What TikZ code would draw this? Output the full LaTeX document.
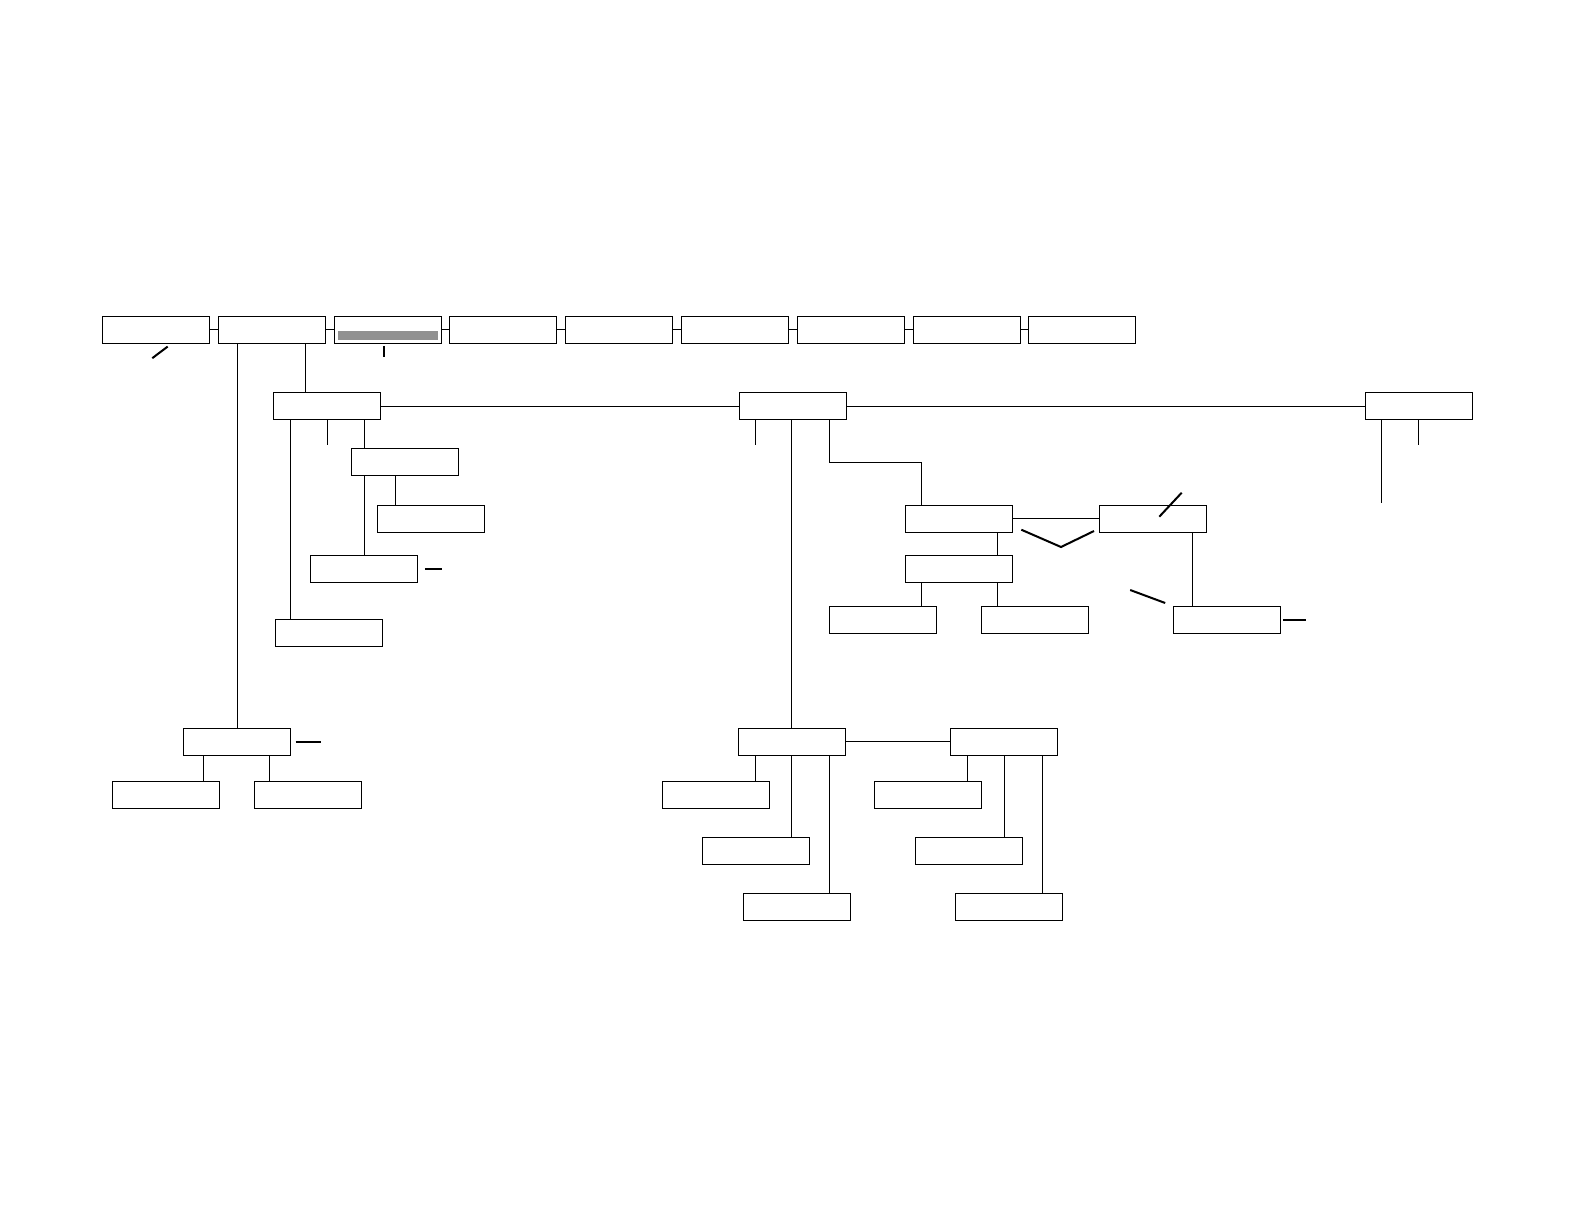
\documentclass[tikz,border=0pt]{standalone}
\usepackage{xcolor}
\usepackage{tikz}
\usetikzlibrary{positioning}
\definecolor{barfill}{gray}{0.57}

\begin{document}
\begin{tikzpicture}[x=1pt, y=-1pt, line width=1pt, node distance=8.8pt,
    box/.style={draw, rectangle, minimum width=107pt, minimum height=26.7pt, inner sep=0pt, outer sep=0pt},
    stub/.style={line width=2pt}]
    \useasboundingbox (0,0) rectangle (1584,1224);

    % top row
    \node[box] (t1) at (156,329.8) {};
    \foreach \i [count=\j from 2] in {1,...,8}
      \node[box, right=of t\i] (t\j) {};
    \foreach \i [count=\j from 2] in {1,...,8}
      \draw (t\i.east) -- (t\j.west);
    \fill[barfill] ([shift={(-49.8,1.2)}]t3.center) rectangle ([shift={(50.2,9.9)}]t3.center);
    \draw[stub] ([shift={(-3.7,15)}]t1.south) -- ([shift={(11.7,3.4)}]t1.south);
    \draw[stub] ([shift={(-4.1,2.7)}]t3.south) -- ++(0,10.7);

    % second level
    \node[box] (left) at (327.3,406.3) {};
    \node[box] (mid) at (792.5,406.3) {};
    \node[box] (right) at (1418.8,406.3) {};
    \draw ([xshift=33.5pt]t2.south) -- ([xshift=33.5pt]t2.south |- left.north);
    \draw (left.east) -- (mid.west);
    \draw (mid.east) -- (right.west);

    % left branch
    \node[box] (left1) at (405,462) {};
    \node[box] (left1a) at (431,518.8) {};
    \node[box] (left2) at (364,569.3) {};
    \node[box] (left3) at (329,632.7) {};
    \draw (left.south) -- ++(0,25) coordinate (lefttick);
    \draw ([xshift=-37pt]left.south) -- ([xshift=-37pt]left.south |- left3.north);
    \draw (left2.north |- left.south) -- (left2.north |- left1.north);
    \draw (left2.north |- left1.south) -- (left2.north);
    \draw ([xshift=-9.7pt]left1.south) -- ([xshift=-9.7pt]left1.south |- left1a.north);
    \draw[stub] ([xshift=7.3pt]left2.east) -- ++(17,0) coordinate (leftdash);

    % lower left
    \node[box] (low) at (237,741.8) {};
    \node[box] (low1) at (166,795.3) {};
    \node[box] (low2) at (307.5,795.3) {};
    \draw (low.north |- t2.south) -- (low.north);
    \draw ([xshift=-33.7pt]low.south) -- ([xshift=-33.7pt]low.south |- low1.north);
    \draw ([xshift=32.3pt]low.south) -- ([xshift=32.3pt]low.south |- low2.north);
    \draw[stub] ([xshift=5pt]low.east) -- ++(25.3,0) coordinate (lowdash);

    % middle branch
    \node[box] (grp) at (958.5,518.8) {};
    \node[box] (pair) at (1153.3,518.8) {};
    \node[box] (grp1) at (958.5,569.3) {};
    \node[box] (grp2) at (883,619.8) {};
    \node[box] (grp3) at (1034.5,619.8) {};
    \node[box] (pair1) at (1227,619.8) {};
    \draw ([xshift=-37pt]mid.south) -- ++(0,25) coordinate (midtick);
    \draw ([xshift=37pt]mid.south) -- ++(0,42.4) -| ([xshift=-37.2pt]grp.north);
    \draw (grp.east) -- (pair.west);
    \draw ([xshift=38.8pt]grp.south) -- ([xshift=38.8pt]grp1.north);
    \draw ([xshift=-37.2pt]grp1.south) -- ([xshift=-37.2pt]grp1.south |- grp2.north);
    \draw ([xshift=38.8pt]grp1.south) -- ([xshift=38.8pt]grp1.south |- grp3.north);
    \draw ([xshift=39pt]pair.south) -- ([xshift=39pt]pair.south |- pair1.north);
    \draw[stub] ([shift={(9.3,10.9)}]grp.east) -- ++(39.7,17.3) -- ++(33,-16);
    \draw[stub] ([shift={(6,-2.1)}]pair.center) -- ([shift={(28.4,-26.1)}]pair.center);
    \draw[stub] ([shift={(-43.3,-29.8)}]pair1.west) -- ([shift={(-8.3,-16.8)}]pair1.west);
    \draw[stub] ([xshift=2.6pt]pair1.east) -- ++(22.4,0) coordinate (pairdash);

    % lower middle
    \node[box] (sub) at (791.8,741.8) {};
    \node[box] (side) at (1004,741.8) {};
    \node[box] (sub1) at (715.8,795.3) {};
    \node[box] (sub2) at (756,850.8) {};
    \node[box] (sub3) at (797,906.8) {};
    \node[box] (side1) at (927.8,795.3) {};
    \node[box] (side2) at (968.8,850.8) {};
    \node[box] (side3) at (1008.8,906.8) {};
    \draw (sub.north |- mid.south) -- (sub.north);
    \draw (sub.east) -- (side.west);
    \draw ([xshift=-36.5pt]sub.south) -- ([xshift=-36.5pt]sub.south |- sub1.north);
    \draw (sub.south) -- (sub.south |- sub2.north);
    \draw ([xshift=37.5pt]sub.south) -- ([xshift=37.5pt]sub.south |- sub3.north);
    \draw ([xshift=-36.7pt]side.south) -- ([xshift=-36.7pt]side.south |- side1.north);
    \draw (side.south) -- (side.south |- side2.north);
    \draw ([xshift=38.3pt]side.south) -- ([xshift=38.3pt]side.south |- side3.north);

    % right branch
    \draw ([xshift=-37.5pt]right.south) -- ++(0,83.4) coordinate (rightend);
    \draw (right.south) -- ++(0,25) coordinate (righttick);
  \end{tikzpicture}
\end{document}
